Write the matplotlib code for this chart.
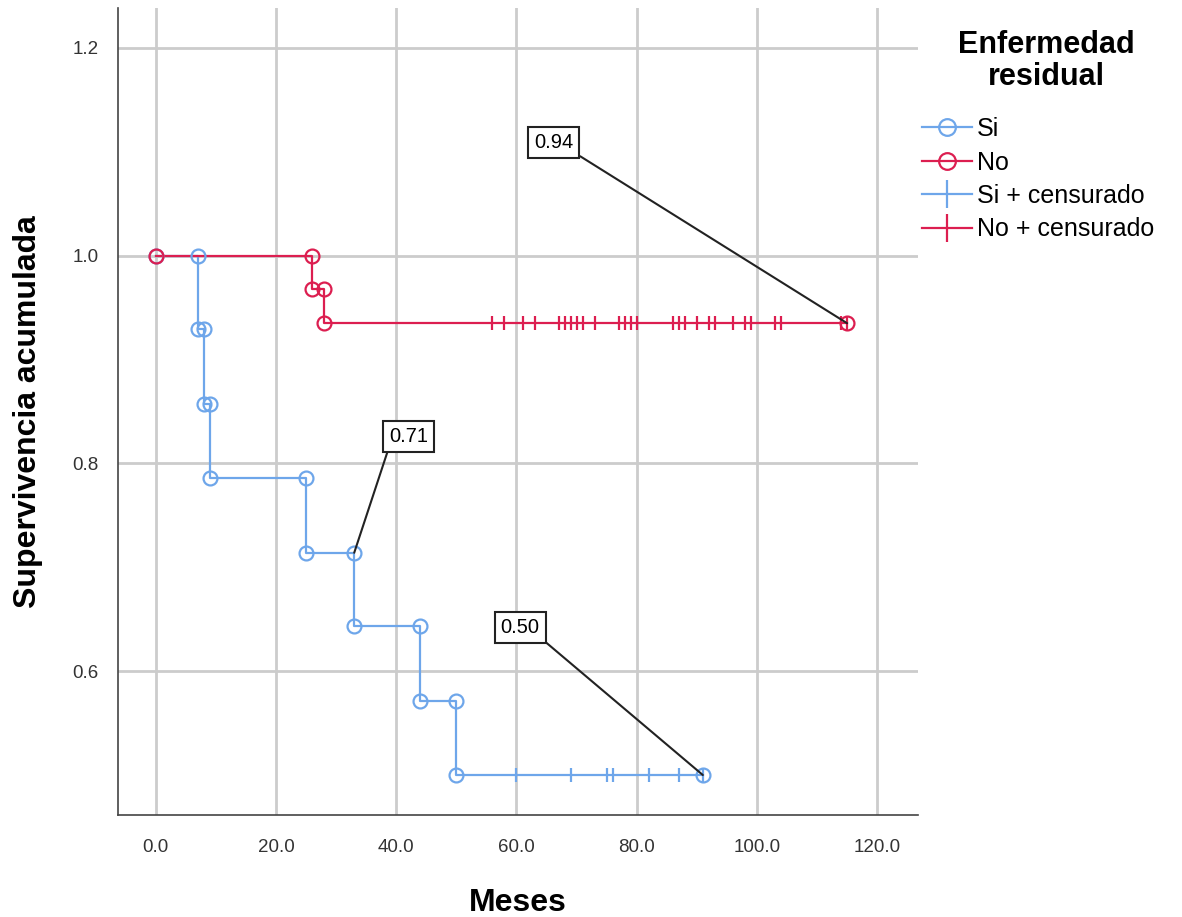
import matplotlib.pyplot as plt
from matplotlib.lines import Line2D

plt.rcParams['font.family'] = ['Liberation Sans', 'DejaVu Sans']

# Kaplan-Meier data
si_times = [0, 7, 8, 9, 25, 33, 44, 50]
si_surv = [1.0, 0.929, 0.857, 0.786, 0.714, 0.643, 0.571, 0.500]
si_end = 91
si_cens = [60, 69, 75, 76, 82, 87, 91]

no_times = [0, 26, 28]
no_surv = [1.0, 0.968, 0.935]
no_end = 115
no_cens = [56, 58, 61, 63, 67, 68, 69, 70, 71, 73, 77, 78, 79, 80,
           86, 87, 88, 90, 92, 93, 96, 98, 99, 103, 104, 114, 115]

labels = ["0.94", "0.71", "0.50"]
label_pts = [(115, 0.935), (33, 0.714), (91, 0.500)]
label_pos = [(66.2, 1.109), (42.1, 0.826), (60.6, 0.642)]
label_rel = [(1, 0), (0, 0), (1, 0)]

blue = '#6ea6ea'
red = '#dc1e50'

fig = plt.figure(figsize=(11.82, 9.17), dpi=100)
ax = fig.add_axes([118 / 1182, 1 - 815 / 917, 800 / 1182, 807 / 917])


def km_curve(times, surv, end, cens, color):
    xs = list(times) + [end]
    ys = list(surv) + [surv[-1]]
    ax.step(xs, ys, where='post', color=color, lw=1.6, zorder=3)
    # circles at the corners of each step
    cx, cy = [times[0]], [surv[0]]
    for i in range(1, len(times)):
        cx += [times[i], times[i]]
        cy += [surv[i - 1], surv[i]]
    cx.append(end)
    cy.append(surv[-1])
    ax.plot(cx, cy, 'o', mfc='none', mec=color, ms=10, mew=1.6, zorder=4)
    cy_c = []
    for c in cens:
        s = surv[0]
        for t, v in zip(times, surv):
            if t <= c:
                s = v
        cy_c.append(s)
    ax.plot(cens, cy_c, '|', color=color, ms=10, mew=1.6, zorder=4)


km_curve(si_times, si_surv, si_end, si_cens, blue)
km_curve(no_times, no_surv, no_end, no_cens, red)

for txt, pt, pos, rel in zip(labels, label_pts, label_pos, label_rel):
    ax.annotate(txt, xy=pt, xytext=pos, ha='center', va='center', fontsize=14.5,
                bbox=dict(boxstyle='square,pad=0.3', fc='white', ec='#222222', lw=1.5),
                arrowprops=dict(arrowstyle='-', color='#222222', lw=1.5,
                                relpos=rel, shrinkA=0, shrinkB=0),
                zorder=5)

ax.set_xlim(-6.3, 126.8)
ax.set_ylim(0.4615, 1.2385)
ax.set_xticks([0, 20, 40, 60, 80, 100, 120])
ax.set_xticklabels(["0.0", "20.0", "40.0", "60.0", "80.0", "100.0", "120.0"])
ax.set_yticks([0.6, 0.8, 1.0, 1.2])
ax.set_yticklabels(["0.6", "0.8", "1.0", "1.2"])
ax.tick_params(length=0, labelsize=13.5, labelcolor='#333333')
ax.tick_params(axis='x', pad=17)
ax.tick_params(axis='y', pad=14)
ax.grid(True, color='#cccccc', lw=2)
ax.set_axisbelow(True)
for side in ['top', 'right']:
    ax.spines[side].set_visible(False)
for side in ['left', 'bottom']:
    ax.spines[side].set_color('#444444')
    ax.spines[side].set_linewidth(1.2)

ax.set_xlabel("Meses", fontsize=23, fontweight='bold')
ax.set_ylabel("Supervivencia acumulada", fontsize=23, fontweight='bold')
ax.xaxis.set_label_coords(0.5, -0.09)
ax.yaxis.set_label_coords(-0.094, 0.5)

# legend title drawn separately so the gap under it matches
fig.text(1046 / 1182, 1 - 61 / 917, "Enfermedad\nresidual", ha='center', va='center',
         fontsize=22, fontweight='bold', linespacing=1.05)

handles = [
    Line2D([], [], color=blue, marker='o', mfc='none', ms=12, mew=1.6, lw=1.6),
    Line2D([], [], color=red, marker='o', mfc='none', ms=12, mew=1.6, lw=1.6),
    Line2D([], [], color=blue, marker='|', ms=20, mew=1.6, lw=1.6),
    Line2D([], [], color=red, marker='|', ms=20, mew=1.6, lw=1.6),
]
leg = fig.legend(handles, ["Si", "No", "Si + censurado", "No + censurado"],
                 loc='upper left', bbox_to_anchor=(922 / 1182, 1 - 117 / 917),
                 frameon=False, fontsize=18, handlelength=2.0, handletextpad=0.2,
                 labelspacing=0.38, borderpad=0, borderaxespad=0)

fig.savefig("out.png", dpi=100)
